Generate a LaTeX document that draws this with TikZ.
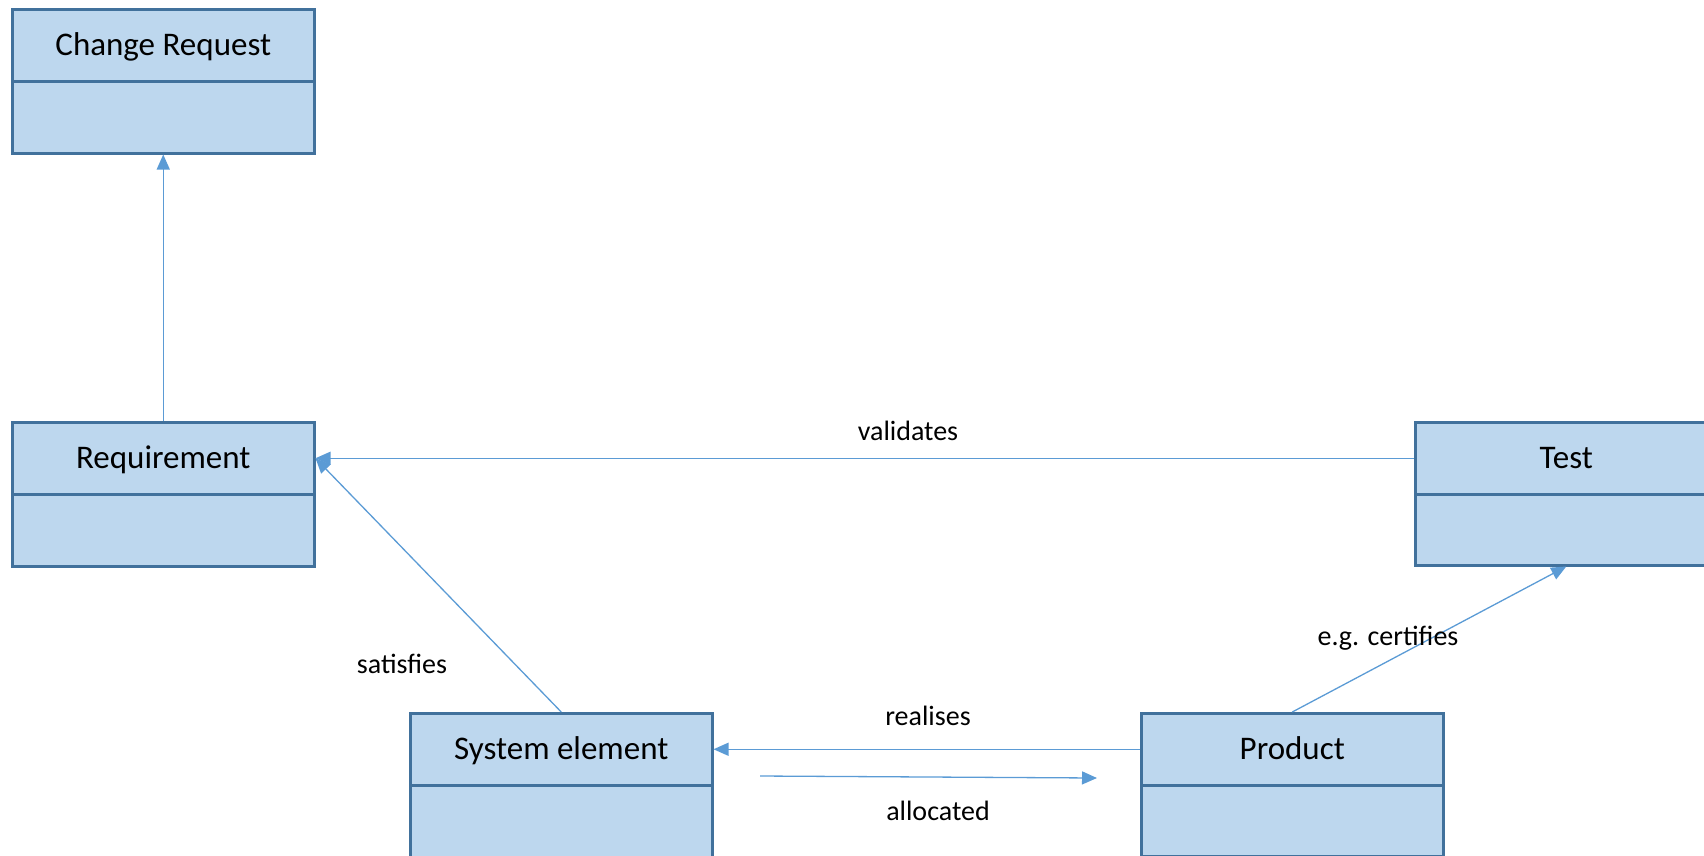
\documentclass[tikz,border=0pt]{standalone}
\usepackage{fontspec}
\setmainfont{Carlito}
\usetikzlibrary{arrows.meta}
\definecolor{boxfill}{HTML}{BDD7EE}
\definecolor{boxline}{HTML}{41719C}
\definecolor{connc}{HTML}{5B9BD5}
\begin{document}
\begin{tikzpicture}[x=1pt,y=-1pt,
  titlebox/.style={draw=boxline, fill=boxfill, line width=2.5pt, minimum width=302pt, minimum height=72pt, inner sep=0pt, font=\fontsize{33}{38}\selectfont, text height=21pt, text depth=0pt, anchor=north west},
  lowerbox/.style={draw=boxline, fill=boxfill, line width=2.5pt, minimum width=302pt, minimum height=72pt, inner sep=0pt, anchor=north west},
  conn/.style={draw=connc, line width=1.3pt, -{Triangle[length=15pt,width=13pt]}},
  lbl/.style={font=\fontsize{28}{34}\selectfont, inner sep=0pt}]
\clip (0,0) rectangle (1704,855);
% Change Request
\node[lowerbox] (crb) at (11,80) {};
\node[titlebox] (cr) at (11,8) {Change Request};
% Requirement
\node[lowerbox] (reqb) at (11,493) {};
\node[titlebox] (req) at (11,421) {Requirement};
% Test
\node[lowerbox] (testb) at (1414,492) {};
\node[titlebox] (test) at (1414,421) {Test};
% System element
\node[lowerbox] (sysb) at (409,784) {};
\node[titlebox] (sys) at (409,712) {System element};
% Product
\node[lowerbox] (prodb) at (1140,783) {};
\node[titlebox] (prod) at (1140,712) {Product};
% connectors
\draw[conn] (req.north) -- (crb.south);
\draw[conn] (test.west) -- (req.east);
\draw[conn] (sys.north) -- (req.east);
\draw[conn] (prod.west) -- (sys.east);
\coordinate (a1) at (760,776);
\coordinate (a2) at (1097,778);
\draw[conn] (a1) -- (a2);
\draw[conn] (prod.north) -- (testb.south);
% labels
\node[lbl] (lv) at (908,431) {validates};
\node[lbl] (ls) at (402,664) {satisfies};
\node[lbl] (lr) at (928,716) {realises};
\node[lbl] (la) at (938,811) {allocated};
\node[lbl] (lc) at (1388,638) {e.g. certifies};
\end{tikzpicture}
\end{document}
